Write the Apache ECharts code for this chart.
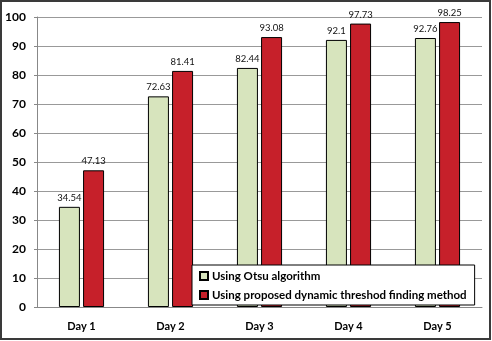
<!DOCTYPE html>
<html><head><meta charset="utf-8">
<script src="https://cdn.jsdelivr.net/npm/echarts@6/dist/echarts.min.js"></script>
<style>html,body{margin:0;padding:0;background:#fff}#c{width:492px;height:341px}</style>
</head><body><div id="c"></div>
<script>
const categories = ['Day 1','Day 2','Day 3','Day 4','Day 5'];
const otsu = [34.54, 72.63, 82.44, 92.1, 92.76];
const proposed = [47.13, 81.41, 93.08, 97.73, 98.25];
const seriesNames = ['Using Otsu algorithm','Using proposed dynamic threshod finding method'];

const chart = echarts.init(document.getElementById('c'));
const lbl = {show:true, position:'top', fontSize:9.5, color:'#111', fontFamily:'Lato', distance:4};
chart.setOption({
  animation:false,
  graphic:[{type:'rect', shape:{x:1,y:1,width:489,height:338}, style:{fill:'none', stroke:'#3a3a3a', lineWidth:2}, z:-1}],
  grid:{left:37, right:10, top:17, bottom:34},
  legend:{orient:'vertical', left:192, top:265, itemWidth:8, itemHeight:8, itemGap:7, icon:'rect',
    backgroundColor:'#fff', borderColor:'#000', borderWidth:1, padding:[5,8,4,7],
    textStyle:{fontFamily:'Lato', fontWeight:'bold', fontSize:11.5, color:'#000', padding:[0,0,0,-1]},
    data:seriesNames, z:10},
  xAxis:{type:'category', data:categories,
    axisLine:{lineStyle:{color:'#888'}}, axisTick:{show:false},
    axisLabel:{fontFamily:'Lato', fontWeight:'bold', fontSize:11, color:'#000', margin:14}},
  yAxis:{type:'value', min:0, max:100, interval:10,
    axisLine:{show:true, lineStyle:{color:'#888'}}, axisTick:{show:true, length:3, lineStyle:{color:'#888'}},
    splitLine:{lineStyle:{color:'#999'}},
    axisLabel:{fontFamily:'Lato', fontWeight:'bold', fontSize:12, color:'#000', margin:11}},
  series:[
    {name:seriesNames[0], type:'bar', data:otsu, barWidth:21, barGap:'15%',
     itemStyle:{color:'#d7e4bd', borderColor:'#000', borderWidth:1}, label:lbl},
    {name:seriesNames[1], type:'bar', data:proposed, barWidth:21,
     itemStyle:{color:'#c6202a', borderColor:'#000', borderWidth:1}, label:lbl}
  ]
});
</script></body></html>
